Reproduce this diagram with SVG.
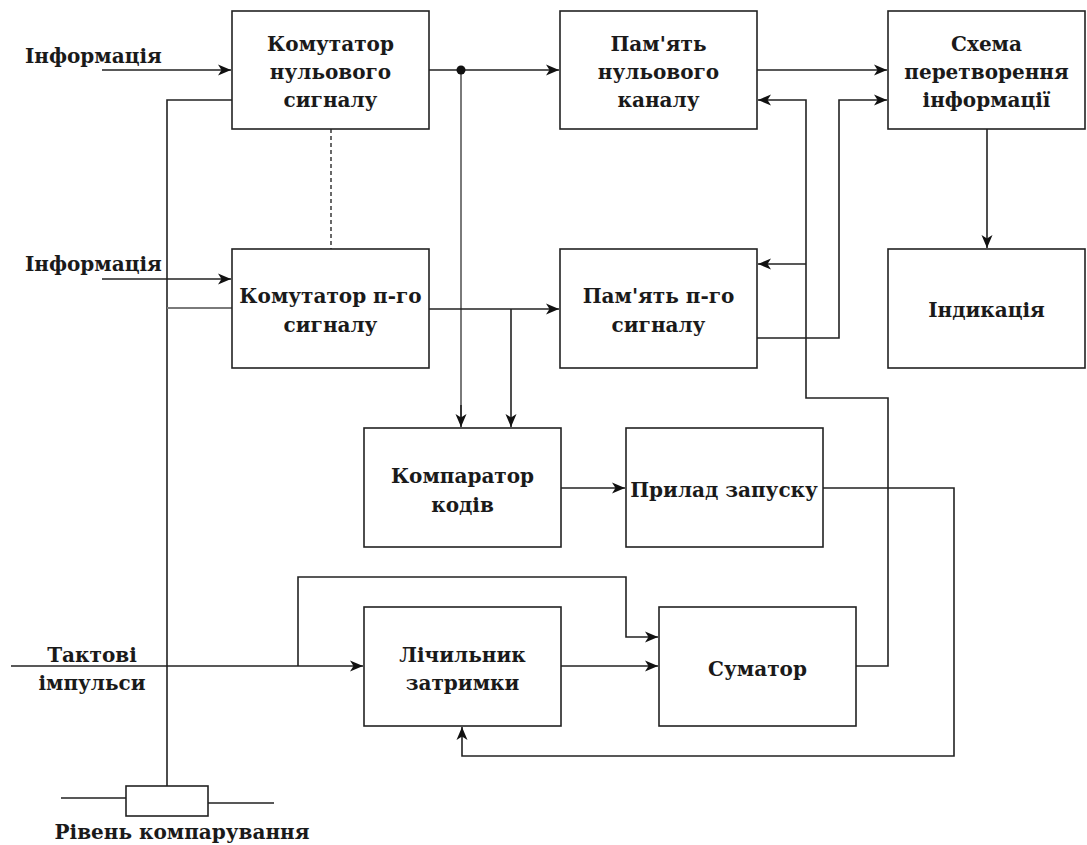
<svg xmlns="http://www.w3.org/2000/svg" width="1087" height="845" viewBox="0 0 1087 845">
<style>
.box{fill:#fff;stroke:#222;stroke-width:1.6}
.t{font-family:"DejaVu Serif","Liberation Serif",serif;font-weight:bold;font-size:20px;fill:#1a1a1a;text-anchor:middle}
.tl{font-family:"DejaVu Serif","Liberation Serif",serif;font-weight:bold;font-size:20px;fill:#1a1a1a}
.c{fill:none;stroke:#222;stroke-width:1.6}
.g{fill:none;stroke:#7a7a7a;stroke-width:2}
</style>
<defs>
<marker id="a" markerUnits="userSpaceOnUse" markerWidth="14" markerHeight="12" refX="13" refY="6" orient="auto">
<path d="M0,0.5 L13,6 L0,11.5 L3.5,6 z" fill="#111"/>
</marker>
</defs>
<rect width="1087" height="845" fill="#fff"/>
<g id="connectors">
<path class="c" d="M102,70 H231" marker-end="url(#a)"/>
<path class="c" d="M102,279 H231" marker-end="url(#a)"/>
<path class="c" d="M232,100 H167 V786"/>
<path class="g" d="M167,308 H232"/>
<path class="c" d="M429,70 H559" marker-end="url(#a)"/>
<path class="g" d="M461,70 V420"/>
<path class="c" d="M461,405 V427" marker-end="url(#a)"/>
<circle cx="461" cy="70" r="4.5" fill="#111"/>
<path class="c" d="M429,309 H559" marker-end="url(#a)"/>
<path class="c" d="M511,309 V427" marker-end="url(#a)"/>
<path class="c" d="M757,70 H887" marker-end="url(#a)"/>
<path class="c" d="M757,338 H839 V100 H887" marker-end="url(#a)"/>
<path class="c" d="M987,129 V248" marker-end="url(#a)"/>
<path class="c" d="M856,666 H888 V398 H806 V100 H758" marker-end="url(#a)"/>
<path class="c" d="M806,264 H758" marker-end="url(#a)"/>
<path class="c" d="M561,488 H625" marker-end="url(#a)"/>
<path class="c" d="M823,488 H954 V756 H462 V727" marker-end="url(#a)"/>
<path class="c" d="M11,666 H363" marker-end="url(#a)"/>
<path class="c" d="M298,666 V577 H626 V637 H658" marker-end="url(#a)"/>
<path class="c" d="M561,666 H658" marker-end="url(#a)"/>
<path fill="none" stroke="#444" stroke-width="1.6" stroke-dasharray="4,3" d="M331,129 V249"/>
<path class="c" d="M61,798 H126 M208,803 H274"/>
</g>
<g id="resistor"><rect class="box" x="126" y="786" width="82" height="30"/></g>
<g id="kom0"><rect class="box" x="232" y="11" width="197" height="118"/>
<text class="t" x="330.5" y="51">Комутатор</text><text class="t" x="330.5" y="79">нульового</text><text class="t" x="330.5" y="107">сигналу</text></g>
<g id="komn"><rect class="box" x="232" y="249" width="197" height="119"/>
<text class="t" x="330.5" y="303">Комутатор п-го</text><text class="t" x="330.5" y="332">сигналу</text></g>
<g id="pam0"><rect class="box" x="560" y="11" width="197" height="118"/>
<text class="t" x="658.5" y="51">Пам'ять</text><text class="t" x="658.5" y="79">нульового</text><text class="t" x="658.5" y="107">каналу</text></g>
<g id="pamn"><rect class="box" x="560" y="249" width="197" height="119"/>
<text class="t" x="658.5" y="303">Пам'ять п-го</text><text class="t" x="658.5" y="332">сигналу</text></g>
<g id="schema"><rect class="box" x="888" y="11" width="197" height="118"/>
<text class="t" x="986.5" y="51">Схема</text><text class="t" x="986.5" y="79">перетворення</text><text class="t" x="986.5" y="107">інформації</text></g>
<g id="ind"><rect class="box" x="888" y="249" width="197" height="119"/>
<text class="t" x="986.5" y="317">Індикація</text></g>
<g id="komp"><rect class="box" x="364" y="428" width="197" height="119"/>
<text class="t" x="462.5" y="483">Компаратор</text><text class="t" x="462.5" y="512">кодів</text></g>
<g id="prylad"><rect class="box" x="626" y="428" width="197" height="119"/>
<text class="t" x="724" y="497">Прилад запуску</text></g>
<g id="lich"><rect class="box" x="364" y="607" width="197" height="119"/>
<text class="t" x="462.5" y="662">Лічильник</text><text class="t" x="462.5" y="690">затримки</text></g>
<g id="sum"><rect class="box" x="659" y="607" width="197" height="119"/>
<text class="t" x="757.5" y="676">Суматор</text></g>
<g id="labels">
<text class="tl" x="25" y="63">Інформація</text>
<text class="tl" x="25" y="271">Інформація</text>
<text class="t" x="92" y="662">Тактові</text>
<text class="t" x="92" y="690">імпульси</text>
<text class="t" x="182" y="839">Рівень компарування</text>
</g>
</svg>
